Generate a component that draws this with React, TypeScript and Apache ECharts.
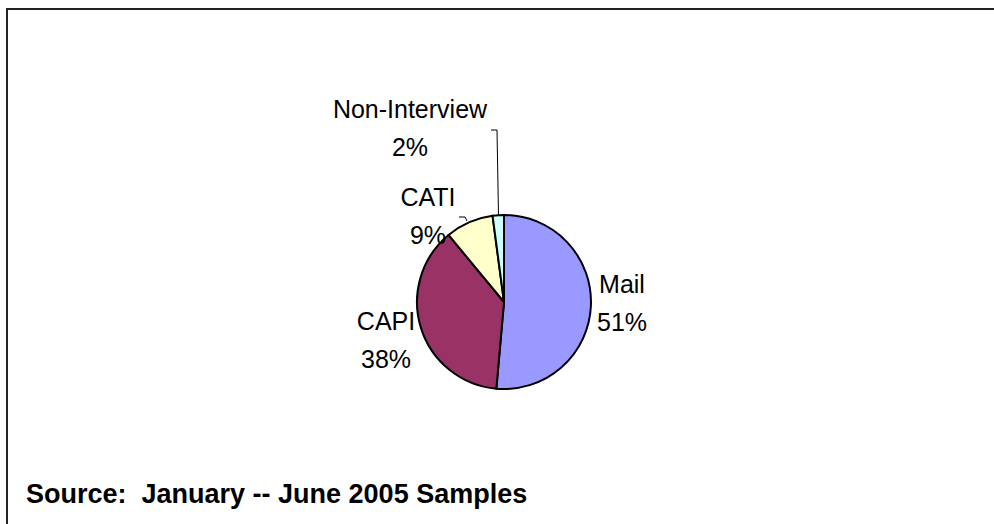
import React, { useEffect, useRef } from "react";
import * as echarts from "echarts";

// ---- data ----
const categories = ["Mail", "CAPI", "CATI", "Non-Interview"];
const shares = [51.4, 37.6, 8.9, 2.1];
const sourceNote = "Source:  January -- June 2005 Samples";

// ---- styling / layout ----
const sliceColors = ["#9999FF", "#993366", "#FFFFCC", "#CCFFFF"];
const labelCenters: number[][] = [
  [622, 303],
  [386, 340],
  [428, 216],
  [410, 128],
];
const leaderLines: (number[][] | null)[] = [
  null,
  null,
  [
    [459, 217],
    [465, 217],
    [467, 221],
  ],
  [
    [491, 130],
    [497, 130],
    [498.5, 216],
  ],
];

export default function App() {
  const ref = useRef<HTMLDivElement>(null);
  useEffect(() => {
    if (!ref.current) return;
    const chart = echarts.init(ref.current, null, { renderer: "svg" });
    const font = '"Liberation Sans", Arial, sans-serif';
    chart.setOption({
      animation: false,
      backgroundColor: "#ffffff",
      graphic: [
        {
          type: "rect",
          shape: { x: 7, y: 9, width: 1100, height: 700 },
          style: { fill: "none", stroke: "#222222", lineWidth: 2 },
          silent: true,
        },
        {
          type: "text",
          style: {
            text: sourceNote,
            x: 26,
            y: 494,
            fill: "#000000",
            font: `bold 27px ${font}`,
            textVerticalAlign: "middle",
          },
        },
      ],
      series: [
        {
          type: "pie",
          center: [504, 302],
          radius: 87,
          startAngle: 90,
          clockwise: true,
          avoidLabelOverlap: false,
          percentPrecision: 0,
          itemStyle: { borderColor: "#000000", borderWidth: 2 },
          label: {
            show: true,
            position: "outside",
            formatter: "{b}\n{d}%",
            fontFamily: font,
            fontSize: 25,
            lineHeight: 38,
            color: "#000000",
            align: "center",
          },
          labelLine: {
            show: true,
            length: 5,
            length2: 5,
            smooth: false,
            lineStyle: { color: "#000000", width: 1 },
          },
          labelLayout: (params: any) => {
            const i = params.dataIndex;
            const out: any = {
              x: labelCenters[i][0],
              y: labelCenters[i][1],
              align: "center",
              verticalAlign: "middle",
            };
            if (leaderLines[i]) out.labelLinePoints = leaderLines[i];
            return out;
          },
          data: categories.map((name, i) => ({
            name,
            value: shares[i],
            itemStyle: { color: sliceColors[i] },
            labelLine: { show: leaderLines[i] !== null },
          })),
        },
      ],
    });
    return () => chart.dispose();
  }, []);
  return (
    <div
      ref={ref}
      style={{ position: "fixed", left: 0, top: 0, width: 994, height: 524 }}
    />
  );
}
